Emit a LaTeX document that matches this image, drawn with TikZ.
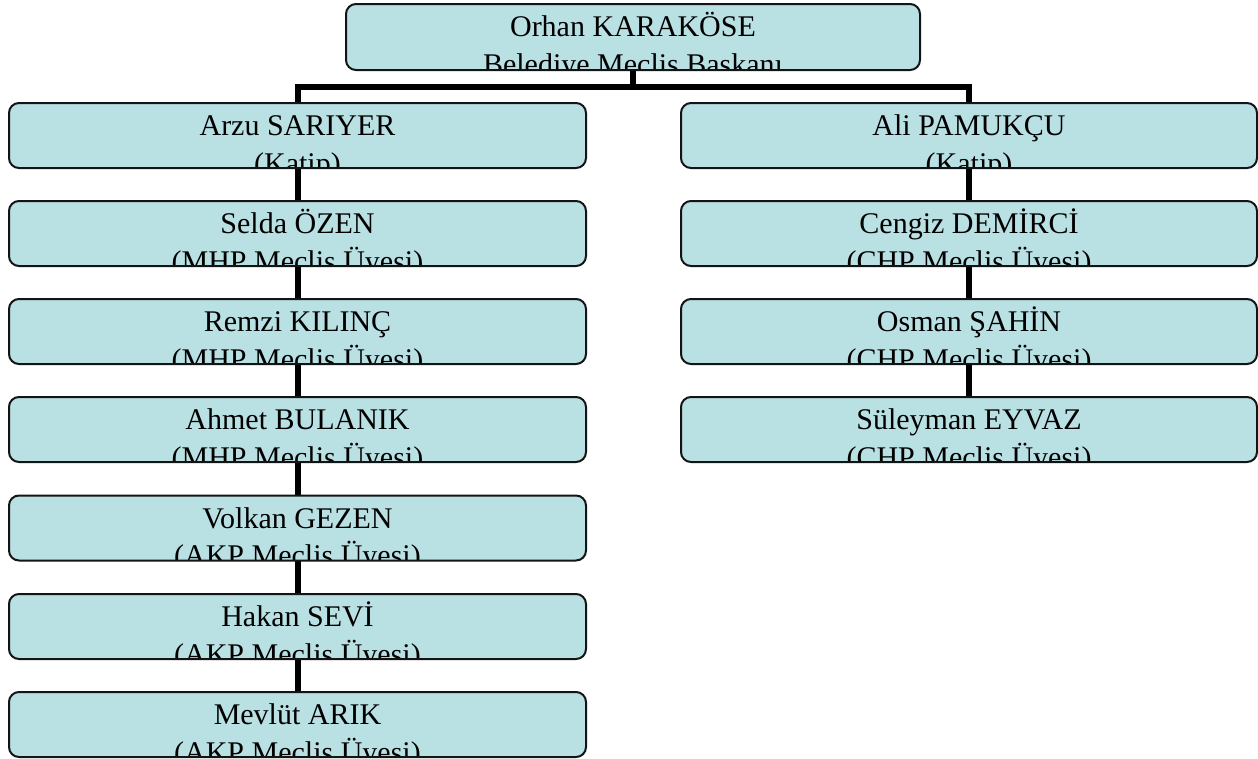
\documentclass[tikz,border=0pt]{standalone}
\usepackage{fontspec}
\setmainfont{Liberation Serif}
\usetikzlibrary{backgrounds}
\definecolor{boxfill}{RGB}{185,224,227}
\definecolor{boxline}{RGB}{20,20,20}
\tikzset{
  orgbox/.style={rectangle, rounded corners=10pt, fill=boxfill, inner sep=0pt, outer sep=0pt, anchor=north},
  orgborder/.style={draw=boxline, line width=2pt, rounded corners=10pt},
  orgtext/.style={inner sep=0pt, anchor=base, font=\fontsize{30}{37}\selectfont},
  conn/.style={draw=black, line width=6pt, line join=miter},
}
\newcommand\orgnode[7]{%
  \node[orgbox, minimum width=#4pt, minimum height=#5pt] (#1) at (#2,#3) {};
  \begin{scope}
    \clip[rounded corners=10pt] (#1.south west) rectangle (#1.north east);
    \node[orgtext] (#1-a) at ([yshift=-32.5pt]#1.north) {#6};
    \node[orgtext] (#1-b) at ([yshift=-70pt]#1.north) {#7};
  \end{scope}
  \draw[orgborder] (#1.south west) rectangle (#1.north east);
}
\begin{document}
\begin{tikzpicture}[x=1pt,y=-1pt]
\useasboundingbox (0,0) rectangle (1258,758);
\orgnode{top}{633}{4}{574}{66}{Orhan KARAKÖSE}{Belediye Meclis Başkanı}
\orgnode{arzu}{297.5}{103}{577}{65}{Arzu SARIYER}{(Katip)}
\orgnode{selda}{297.5}{201}{577}{65}{Selda ÖZEN}{(MHP Meclis Üyesi)}
\orgnode{remzi}{297.5}{299}{577}{65}{Remzi KILINÇ}{(MHP Meclis Üyesi)}
\orgnode{ahmet}{297.5}{397}{577}{65}{Ahmet BULANIK}{(MHP Meclis Üyesi)}
\orgnode{volkan}{297.5}{495.5}{577}{65}{Volkan GEZEN}{(AKP Meclis Üyesi)}
\orgnode{hakan}{297.5}{594}{577}{65}{Hakan SEVİ}{(AKP Meclis Üyesi)}
\orgnode{mevlut}{297.5}{692}{577}{65}{Mevlüt ARIK}{(AKP Meclis Üyesi)}
\orgnode{ali}{969}{103}{576}{65}{Ali PAMUKÇU}{(Katip)}
\orgnode{cengiz}{969}{201}{576}{65}{Cengiz DEMİRCİ}{(CHP Meclis Üyesi)}
\orgnode{osman}{969}{299}{576}{65}{Osman ŞAHİN}{(CHP Meclis Üyesi)}
\orgnode{suleyman}{969}{397}{576}{65}{Süleyman EYVAZ}{(CHP Meclis Üyesi)}
\coordinate (j) at (633,87);
\begin{scope}[on background layer]
  \draw[conn] (top.south) -- (j);
  \draw[conn] (arzu.north) -- (arzu.north |- j) -- (ali.north |- j) -- (ali.north);
  \draw[conn] (arzu) -- (selda) -- (remzi) -- (ahmet) -- (volkan) -- (hakan) -- (mevlut);
  \draw[conn] (ali) -- (cengiz) -- (osman) -- (suleyman);
\end{scope}
\end{tikzpicture}
\end{document}
